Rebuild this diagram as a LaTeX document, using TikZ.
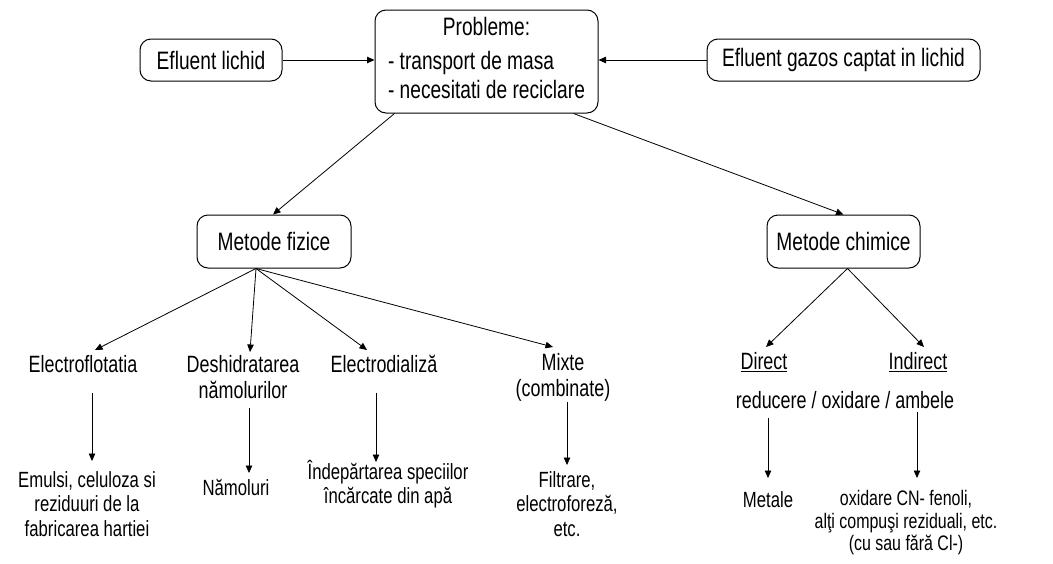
\documentclass[tikz,border=0pt]{standalone}
\usepackage{fontspec}
\setmainfont[FakeStretch=0.76]{Liberation Sans}
\usetikzlibrary{arrows.meta,calc}
\tikzset{
  box/.style={draw, line width=1pt, rounded corners=11pt, inner sep=0pt, align=center,
    font=\fontsize{25.2}{29}\selectfont},
  lblA/.style={inner sep=0pt, align=center, font=\fontsize{23.6}{26}\selectfont},
  lblB/.style={inner sep=0pt, align=center, font=\fontsize{22}{24.5}\selectfont},
  lblC/.style={inner sep=0pt, align=center, font=\fontsize{21}{22.5}\selectfont},
  arr/.style={line width=0.8pt, -{Triangle[length=7.5pt,width=6.5pt]}},
}
\begin{document}
\begin{tikzpicture}[x=1pt,y=-1pt]
\useasboundingbox[fill=white] (0,0) rectangle (1053,563);

% top row
\node[box, minimum width=142pt, minimum height=42pt] (el) at (211,60) {Efluent lichid};
\node[box, minimum width=223pt, minimum height=103pt] (pb) at (486.5,61.5)
  {\begin{tabular}{@{}l@{}}\multicolumn{1}{@{}c@{}}{Probleme:}\\[5pt]
   - transport de masa\\ - necesitati de reciclare\end{tabular}};
\node[box, minimum width=273pt, minimum height=42pt] (eg) at (843.5,60) {Efluent gazos captat in lichid};

% method boxes
\node[box, minimum width=154pt, minimum height=53pt] (mf) at (274,241.5) {Metode fizice};
\node[box, minimum width=153pt, minimum height=53pt] (mc) at (843.5,241.5) {Metode chimice};

% first level labels
\node[lblA] (e1) at (83,364) {Electroflotatia};
\node[lblA] (e2) at (243,377) {Deshidratarea\\nămolurilor};
\node[lblA] (e3) at (384,364) {Electrodializă};
\node[lblA] (e4) at (563,377) {Mixte\\(combinate)};
\node[lblA] (d1) at (764,362) {\underline{Direct}};
\node[lblA] (d2) at (918,362) {\underline{Indirect}};
\node[lblA] (rd) at (845,400) {reducere / oxidare / ambele};

% second level labels
\node[lblB] (r1) at (87,504) {Emulsi, celuloza si\\reziduuri de la\\fabricarea hartiei};
\node[lblB] (r2) at (236,487) {Nămoluri};
\node[lblB] (r3) at (388,484) {Îndepărtarea speciilor\\încărcate din apă};
\node[lblB] (r4) at (567,504) {Filtrare,\\electroforeză,\\etc.};
\node[lblB] (r5) at (768,500) {Metale};
\node[lblC] (r6) at (906,523) {oxidare CN- fenoli,\\alţi compuşi reziduali, etc.\\(cu sau fără Cl-)};

% top connectors
\draw[arr] (el.east) -- (el.east -| pb.west);
\draw[arr] (eg.west) -- (eg.west -| pb.east);
\draw[arr] ($(pb.south west)+(20,0)$) -- ($(mf.north)+(-1,0)$);
\draw[arr] ($(pb.south west)+(199,0)$) -- (mc.north);

% fan from Metode fizice
\coordinate (fan) at ($(mf.south)+(-18,0)$);
\draw[arr] (fan) -- ($(e1)+(12,-14)$);
\draw[arr] (fan) -- ($(e2)+(7,-25)$);
\draw[arr] (fan) -- ($(e3)+(-17,-14)$);
\draw[arr] (fan) -- ($(e4)+(-10,-30)$);

% fan from Metode chimice
\coordinate (fanc) at ($(mc.south)+(4,0)$);
\draw[arr] (fanc) -- ($(d1)+(2,-15)$);
\draw[arr] (fanc) -- ($(d2)+(6,-15)$);

% vertical connectors
\draw[arr] ($(e1)+(9,29)$) -- ($(e1)+(9,97)$);
\draw[arr] ($(e2)+(6,31)$) -- ($(e2)+(6,96)$);
\draw[arr] ($(e3)+(-8,29)$) -- ($(e3)+(-8,98)$);
\draw[arr] ($(e4)+(4,25)$) -- ($(e4)+(4,88)$);
\draw[arr] ($(rd)+(-77,18)$) -- ($(rd)+(-77,78)$);
\draw[arr] ($(rd)+(72,12)$) -- ($(rd)+(72,78)$);
\end{tikzpicture}
\end{document}
